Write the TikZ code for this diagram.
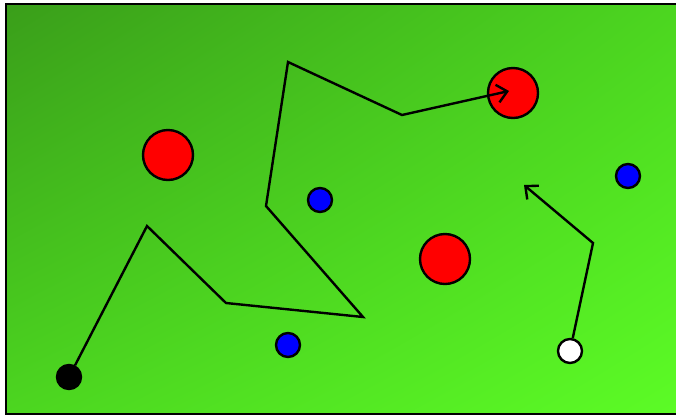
\documentclass[tikz,border=0pt]{standalone}
\usetikzlibrary{arrows.meta,shadings}
\usepackage{xcolor}
\definecolor{campooscuro}{RGB}{58,158,26}
\definecolor{campomedio}{RGB}{76,214,32}
\definecolor{campoclaro}{RGB}{92,252,38}
\tikzset{
  bola/.style={circle, draw=black, line width=2.4pt, fill=red, minimum size=50pt, inner sep=0pt},
  ficha/.style={circle, draw=black, line width=2.4pt, fill=blue, minimum size=24pt, inner sep=0pt},
  ruta/.style={draw=black, line width=2.4pt, line join=miter},
  flecha/.style={ruta, -{Straight Barb[length=10pt,width=18pt,line width=2.4pt]}}
}

\begin{document}
\begin{tikzpicture}[x=1pt, y=-1pt]

\useasboundingbox (0,0) rectangle (676,416);

% campo
\shade[upper left=campooscuro, upper right=campomedio,
       lower left=campomedio, lower right=campoclaro]
  (6,4) rectangle (680,414);
\draw[line width=2.8pt] (6,4) rectangle (680,414);

% bolas rojas
\node[bola] (rojaA) at (168,155) {};
\node[bola] (rojaB) at (513,93) {};
\node[bola] (rojaC) at (445,259) {};

% fichas azules
\node[ficha] (azulA) at (320,200) {};
\node[ficha] (azulB) at (628,176) {};
\node[ficha] (azulC) at (288,345) {};

% salidas
\node[ficha, fill=black] (negra) at (69,377) {};
\node[ficha, fill=white] (blanca) at (570,351) {};

% vertices
\coordinate (p1) at (147,226);
\coordinate (p2) at (226,303);
\coordinate (p3) at (363,317);
\coordinate (p4) at (266,206);
\coordinate (p5) at (288,62);
\coordinate (p6) at (402,115);
\coordinate (finA) at (509,91);

\coordinate (q1) at (593,243);
\coordinate (finB) at (524,185);

\draw[flecha] (negra) -- (p1) -- (p2) -- (p3) -- (p4) -- (p5) -- (p6) -- (finA);
\draw[flecha] (blanca) -- (q1) -- (finB);

\end{tikzpicture}
\end{document}
